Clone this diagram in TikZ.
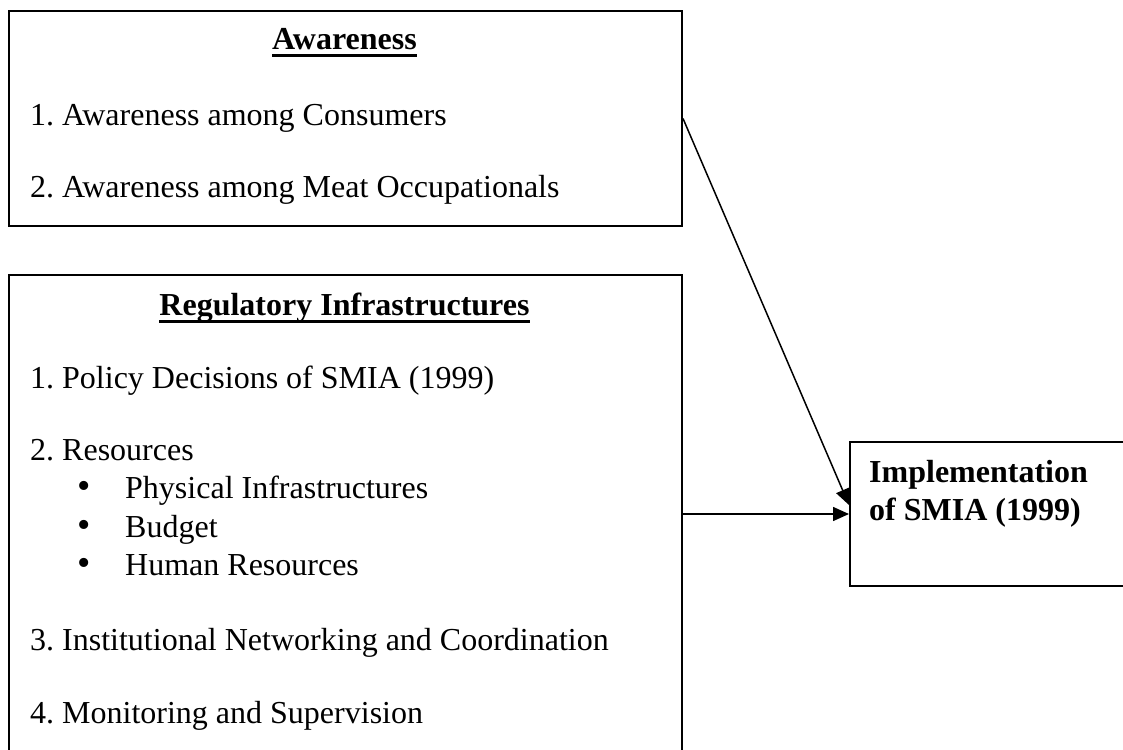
\documentclass[tikz,border=0pt]{standalone}
\usepackage{fontspec}
\setmainfont{Liberation Serif}
\usetikzlibrary{arrows.meta}
\frenchspacing
\begin{document}
\begin{tikzpicture}[x=1pt,y=-1pt,
  box/.style={draw=black, line width=2pt, inner sep=0pt, anchor=north west},
  txt/.style={anchor=base west, inner sep=0pt, font=\fontsize{32}{37}\selectfont},
  btxt/.style={anchor=base west, inner sep=0pt, font=\fontsize{32}{37}\selectfont\bfseries},
  ttl/.style={anchor=base, inner sep=0pt, font=\fontsize{32}{37}\selectfont\bfseries},
  bul/.style={anchor=base, inner sep=0pt, font=\fontsize{38}{37}\selectfont},
  uline/.style={line width=3pt},
  arr/.style={line width=1.5pt, -{Triangle[length=16pt,width=14pt]}}]
\useasboundingbox (0,0) rectangle (1123,749);
\clip (0,0) rectangle (1123,749);
% Awareness box
\node[box, minimum width=673pt, minimum height=215pt] (aw) at (8,10) {};
\node[ttl] (awt) at (344.5,50) {Awareness};
\draw[uline] ([yshift=-6pt]awt.base west) -- ([yshift=-6pt]awt.base east);
\node[txt] (aw1) at (30,125) {1. Awareness among Consumers};
\node[txt] (aw2) at (30,197) {2. Awareness among Meat Occupationals};
% Regulatory box
\node[box, minimum width=673pt, minimum height=500pt] (reg) at (8,274) {};
\node[ttl] (regt) at (344.5,315) {Regulatory Infrastructures};
\draw[uline] ([yshift=-6pt]regt.base west) -- ([yshift=-6pt]regt.base east);
\node[txt] (r1) at (30,388) {1. Policy Decisions of SMIA (1999)};
\node[txt] (r2) at (30,460) {2. Resources};
\node[bul] (b1) at (84,498.5) {\textbullet};
\node[txt] (r2a) at (125,498.5) {Physical Infrastructures};
\node[bul] (b2) at (84,537) {\textbullet};
\node[txt] (r2b) at (125,537) {Budget};
\node[bul] (b3) at (84,575.5) {\textbullet};
\node[txt] (r2c) at (125,575.5) {Human Resources};
\node[txt] (r3) at (30,650) {3. Institutional Networking and Coordination};
\node[txt] (r4) at (30,723) {4. Monitoring and Supervision};
% Implementation box
\node[box, minimum width=300pt, minimum height=144pt] (imp) at (849,441) {};
\node[btxt] (imp1) at (869,482) {Implementation};
\node[btxt] (imp2) at (869,520) {of SMIA (1999)};
% Connectors
\draw[arr] (aw.east) -- ([yshift=9pt]imp.west);
\draw[arr] (reg.east |- imp.west) -- (imp.west);
\end{tikzpicture}
\end{document}
